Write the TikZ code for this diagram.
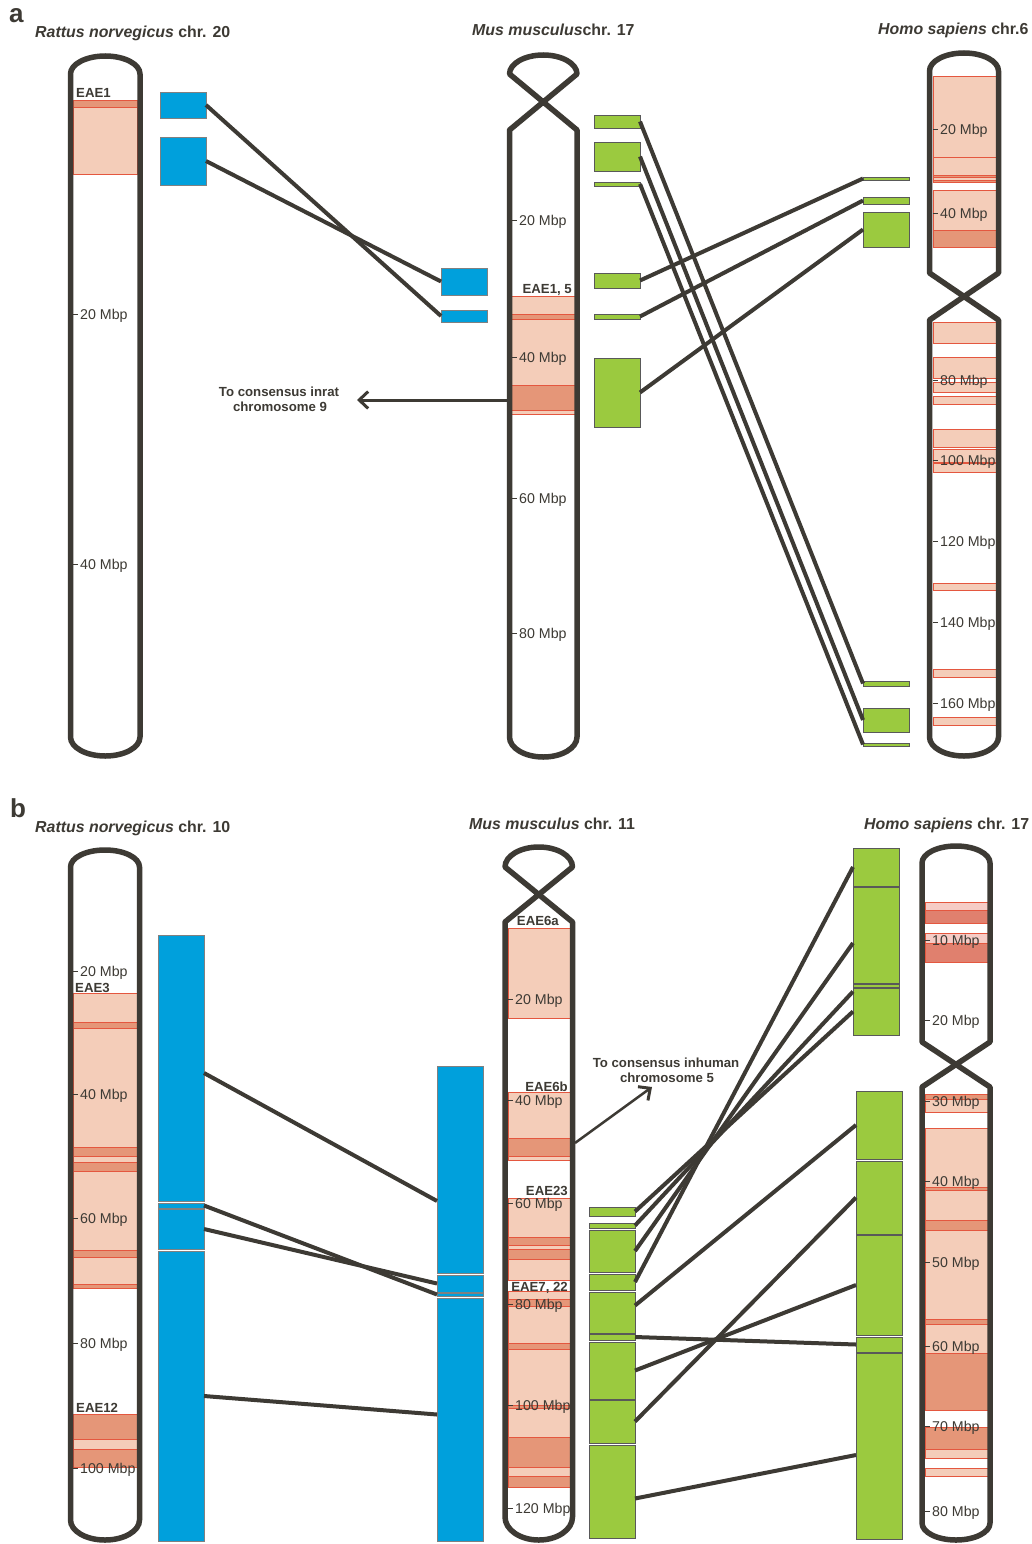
\documentclass[tikz,border=0pt]{standalone}
\usepackage{fontspec}
\setmainfont{Liberation Sans}
\usetikzlibrary{arrows.meta,calc}
\definecolor{chrc}{HTML}{3D3A34}
\definecolor{lsal}{HTML}{F4CDB9}
\definecolor{dsal}{HTML}{E59678}
\definecolor{bandred}{HTML}{E4573F}
\definecolor{bluec}{HTML}{00A0DC}
\definecolor{greenc}{HTML}{9BCA3F}
\definecolor{lpink}{HTML}{F6CCC6}
\definecolor{dred}{HTML}{E0806E}
\newcommand\boxn[6]{\node[#1, anchor=north west, minimum width={(#4)-(#2)}, minimum height={(#5)-(#3)}] (#6) at (#2,#3) {};}
\newcommand\bnd[5]{\draw[#1] (#2,#3) rectangle (#4,#5);}
\newcommand\tk[4]{\draw[tickln] (#1,#2) -- ({#1+5},#2); \node[ticklab, anchor=base west] (#4) at ({#1+7},{#2+5}) {#3 Mbp};}
\tikzset{
 chr/.style={draw=chrc, line width=5.5pt, line join=round},
 lband/.style={fill=lsal, draw=bandred, line width=0.8pt},
 dband/.style={fill=dsal, draw=bandred, line width=0.8pt},
 pband/.style={fill=lpink, draw=bandred, line width=0.8pt},
 rband/.style={fill=dred, draw=bandred, line width=0.8pt},
 bluebox/.style={fill=bluec, draw=gray, line width=0.8pt, inner sep=0pt, outer sep=0pt},
 greenbox/.style={fill=greenc, draw=gray!70!black, line width=0.8pt, inner sep=0pt, outer sep=0pt},
 link/.style={draw=chrc, line width=4pt},
 tickln/.style={draw=chrc, line width=1pt},
 ticklab/.style={font=\fontsize{14.2}{14}\selectfont, text=chrc, inner sep=0pt},
 eae/.style={font=\bfseries\fontsize{13.2}{13}\selectfont, text=chrc, inner sep=0pt},
 ttl/.style={font=\bfseries\fontsize{15.9}{16}\selectfont, text=chrc, inner sep=0pt},
 plet/.style={font=\bfseries\fontsize{26}{26}\selectfont, text=chrc, inner sep=0pt},
 arr/.style={draw=chrc, line width=3pt, -{Straight Barb[length=9pt,width=17pt,line width=3pt]}},
}
\begin{document}
\begin{tikzpicture}[x=1pt,y=-1pt]
\useasboundingbox (0,0) rectangle (1031,1544);
\fill[white] (0,0) rectangle (1031,1544);

% ================= PANEL A =================
\node[plet, anchor=base west] (pa) at (9,23) {a};
\node[ttl, anchor=base west] (ta1) at (35,38) {\textit{Rattus norvegicus} chr. 20};
\node[ttl, anchor=base west] (ta2) at (472,36) {\textit{Mus musculus}chr. 17};
\node[ttl, anchor=base west] (ta3) at (878,35) {\textit{Homo sapiens} chr.6};

% rat chr 20
\bnd{lband}{73.5}{100}{137}{174}
\bnd{dband}{73.5}{100}{137}{107}
\draw[chr] (70.5,737) -- (70.5,74) arc[start angle=180,end angle=360,x radius=34.75,y radius=18] -- (140,737) arc[start angle=0,end angle=180,x radius=34.75,y radius=19] -- cycle;
\tk{73}{314}{20}{ra20}
\tk{73}{564}{40}{ra40}
\node[eae, anchor=base west] (eae1) at (76,98) {EAE1};

% mouse chr 17
\bnd{lband}{511}{296}{575}{414}
\bnd{dband}{511}{314}{575}{319}
\bnd{dband}{511}{385}{575}{410}
\draw[chr] (509.5,737) -- (509.5,130) -- (577,74) arc[start angle=0,end angle=-180,x radius=33.75,y radius=19] -- (577,130) -- (577,737) arc[start angle=0,end angle=180,x radius=33.75,y radius=20] -- cycle;
\tk{512}{220}{20}{ma20}
\tk{512}{357}{40}{ma40}
\tk{512}{498}{60}{ma60}
\tk{512}{633}{80}{ma80}
\node[eae, anchor=base east] (eae15) at (572,293) {EAE1, 5};

% human chr 6
\bnd{lband}{933}{76}{996}{157}
\bnd{lband}{933}{157}{996}{175}
\bnd{dband}{933}{175}{996}{177}
\bnd{lband}{933}{177}{996}{180}
\bnd{dband}{933}{180}{996}{182}
\bnd{lband}{933}{190}{996}{230}
\bnd{dband}{933}{230}{996}{247}
\bnd{lband}{933}{322}{996}{343}
\bnd{lband}{933}{357}{996}{378}
\bnd{lband}{933}{382}{996}{392}
\bnd{lband}{933}{396}{996}{404}
\bnd{lband}{933}{429}{996}{447}
\bnd{lband}{933}{449}{996}{462}
\bnd{lband}{933}{463}{996}{472}
\bnd{lband}{933}{583}{996}{590}
\bnd{lband}{933}{669}{996}{677}
\bnd{lband}{933}{717}{996}{725}
\draw[chr] (929.5,273) -- (929.5,71) arc[start angle=180,end angle=360,x radius=34.5,y radius=18] -- (998.5,273) -- (929.5,320) -- (929.5,737) arc[start angle=180,end angle=0,x radius=34.5,y radius=19] -- (998.5,320) -- cycle;
\tk{933}{130}{20}{ha20}
\tk{933}{213}{40}{ha40}
\tk{933}{380}{80}{ha80}
\tk{933}{460}{100}{ha100}
\tk{933}{541}{120}{ha120}
\tk{933}{622}{140}{ha140}
\tk{933}{703}{160}{ha160}

% boxes panel a
\boxn{bluebox}{160}{92}{206}{118}{ra1}
\boxn{bluebox}{160}{137}{206}{185}{ra2}
\boxn{bluebox}{441}{268}{487}{295}{ma1}
\boxn{bluebox}{441}{310}{487}{322}{ma2}
\boxn{greenbox}{594}{115}{640}{128}{mg1}
\boxn{greenbox}{594}{142}{640}{171}{mg2}
\boxn{greenbox}{594}{182}{640}{186}{mg3}
\boxn{greenbox}{594}{273}{640}{288}{mg4}
\boxn{greenbox}{594}{314}{640}{319}{mg5}
\boxn{greenbox}{594}{358}{640}{427}{mg6}
\boxn{greenbox}{863}{177}{909}{180}{hg1}
\boxn{greenbox}{863}{197}{909}{204}{hg2}
\boxn{greenbox}{863}{212}{909}{247}{hg3}
\boxn{greenbox}{863}{681}{909}{686}{hg4}
\boxn{greenbox}{863}{708}{909}{732}{hg5}
\boxn{greenbox}{863}{743}{909}{746}{hg6}

\draw[link] (ra1.east) -- (ma2.west);
\draw[link] (ra2.east) -- (ma1.west);
\draw[link] (mg1.east) -- (hg4.west);
\draw[link] (mg2.east) -- (hg5.west);
\draw[link] (mg3.east) -- (hg6.west);
\draw[link] (mg4.east) -- (hg1.west);
\draw[link] (mg5.east) -- (hg2.west);
\draw[link] (mg6.east) -- (hg3.west);

\coordinate (m17l) at (507,400);
\coordinate (arrA) at (357,400);
\draw[arr] (m17l) -- (arrA);
\node[eae, anchor=base] (ca1) at (279,396) {To consensus inrat};
\node[eae, anchor=base] (ca2) at (280,411) {chromosome 9};

% ================= PANEL B =================
\node[plet, anchor=base west] (pb) at (10,817) {b};
\node[ttl, anchor=base west] (tb1) at (35,832) {\textit{Rattus norvegicus} chr. 10};
\node[ttl, anchor=base west] (tb2) at (469,829) {\textit{Mus musculus} chr. 11};
\node[ttl, anchor=base west] (tb3) at (864,829) {\textit{Homo sapiens} chr. 17};

% rat chr 10
\bnd{lband}{73.5}{993}{137}{1288}
\bnd{dband}{73.5}{1022}{137}{1028}
\bnd{dband}{73.5}{1147}{137}{1156}
\bnd{dband}{73.5}{1162}{137}{1171}
\bnd{dband}{73.5}{1250}{137}{1257}
\bnd{dband}{73.5}{1284}{137}{1288}
\bnd{dband}{73.5}{1414}{137}{1467}
\bnd{lband}{73.5}{1439}{137}{1449}
\draw[chr] (70.5,1520) -- (70.5,867) arc[start angle=180,end angle=360,x radius=34.5,y radius=17] -- (139.5,1520) arc[start angle=0,end angle=180,x radius=34.5,y radius=20] -- cycle;
\tk{73}{971}{20}{rb20}
\tk{73}{1094}{40}{rb40}
\tk{73}{1218}{60}{rb60}
\tk{73}{1343}{80}{rb80}
\tk{73}{1468}{100}{rb100}
\node[eae, anchor=base west] (eae3) at (75,992) {EAE3};
\node[eae, anchor=base west] (eae12) at (76,1412) {EAE12};

% mouse chr 11
\bnd{lband}{508}{928}{570}{1018}
\bnd{lband}{508}{1092}{570}{1160}
\bnd{dband}{508}{1138}{570}{1156}
\bnd{lband}{508}{1198}{570}{1280}
\bnd{dband}{508}{1237}{570}{1245}
\bnd{dband}{508}{1249}{570}{1259}
\bnd{lband}{508}{1291}{570}{1487}
\bnd{dband}{508}{1299}{570}{1306}
\bnd{dband}{508}{1343}{570}{1349}
\bnd{dband}{508}{1405}{570}{1408}
\bnd{dband}{508}{1437}{570}{1467}
\bnd{dband}{508}{1476}{570}{1487}
\draw[chr] (505,1517) -- (505,922) -- (572.5,867) arc[start angle=0,end angle=-180,x radius=33.75,y radius=20] -- (572.5,922) -- (572.5,1517) arc[start angle=0,end angle=180,x radius=33.75,y radius=23] -- cycle;
\tk{508}{999}{20}{mb20}
\tk{508}{1100}{40}{mb40}
\tk{508}{1203}{60}{mb60}
\tk{508}{1304}{80}{mb80}
\tk{508}{1405}{100}{mb100}
\tk{508}{1508}{120}{mb120}
\node[eae, anchor=base east] (eae6a) at (559,925) {EAE6a};
\node[eae, anchor=base east] (eae6b) at (568,1091) {EAE6b};
\node[eae, anchor=base east] (eae23) at (568,1195) {EAE23};
\node[eae, anchor=base east] (eae722) at (568,1291) {EAE7, 22};

% human chr 17
\bnd{pband}{925}{902}{988}{910}
\bnd{rband}{925}{910}{988}{923}
\bnd{pband}{925}{933}{988}{943}
\bnd{rband}{925}{943}{988}{962}
\bnd{lband}{925}{1094}{988}{1112}
\bnd{dband}{925}{1094}{988}{1099}
\bnd{lband}{925}{1128}{988}{1187}
\bnd{dband}{925}{1187}{988}{1190}
\bnd{lband}{925}{1190}{988}{1220}
\bnd{dband}{925}{1220}{988}{1230}
\bnd{lband}{925}{1230}{988}{1319}
\bnd{dband}{925}{1319}{988}{1324}
\bnd{lband}{925}{1324}{988}{1353}
\bnd{dband}{925}{1353}{988}{1410}
\bnd{dband}{925}{1427}{988}{1449}
\bnd{lband}{925}{1449}{988}{1458}
\bnd{lband}{925}{1468}{988}{1476}
\draw[chr] (922,1042) -- (922,863) arc[start angle=180,end angle=360,x radius=34,y radius=17] -- (990,1042) -- (922,1087) -- (922,1523) arc[start angle=180,end angle=0,x radius=34,y radius=17] -- (990,1087) -- cycle;
\tk{925}{940}{10}{hb10}
\tk{925}{1020}{20}{hb20}
\tk{925}{1101}{30}{hb30}
\tk{925}{1181}{40}{hb40}
\tk{925}{1262}{50}{hb50}
\tk{925}{1346}{60}{hb60}
\tk{925}{1426}{70}{hb70}
\tk{925}{1511}{80}{hb80}

% blue bars panel b
\boxn{bluebox}{158}{935}{204}{1201}{rb1}
\boxn{bluebox}{158}{1203}{204}{1208}{rb2}
\boxn{bluebox}{158}{1209}{204}{1249}{rb3}
\boxn{bluebox}{158}{1251}{204}{1541}{rb4}
\boxn{bluebox}{437}{1066}{483}{1273}{mb1}
\boxn{bluebox}{437}{1275}{483}{1292}{mb2}
\boxn{bluebox}{437}{1293}{483}{1296}{mb3}
\boxn{bluebox}{437}{1298}{483}{1541}{mb4}
% green bars panel b
\boxn{greenbox}{589}{1207}{635}{1216}{ms1}
\boxn{greenbox}{589}{1223}{635}{1228}{ms2}
\boxn{greenbox}{589}{1230}{635}{1272}{ms3}
\boxn{greenbox}{589}{1274}{635}{1290}{ms4}
\boxn{greenbox}{589}{1292}{635}{1333}{ms5}
\boxn{greenbox}{589}{1334}{635}{1340}{ms6}
\boxn{greenbox}{589}{1342}{635}{1399}{ms7}
\boxn{greenbox}{589}{1400}{635}{1443}{ms8}
\boxn{greenbox}{589}{1445}{635}{1538}{ms9}
\boxn{greenbox}{853}{848}{899}{886}{hs1}
\boxn{greenbox}{853}{887}{899}{983}{hs2}
\boxn{greenbox}{853}{984}{899}{987}{hs3}
\boxn{greenbox}{853}{988}{899}{1035}{hs4}
\boxn{greenbox}{856}{1091}{902}{1159}{hs5}
\boxn{greenbox}{856}{1161}{902}{1234}{hs6}
\boxn{greenbox}{856}{1235}{902}{1335}{hs7}
\boxn{greenbox}{856}{1337}{902}{1352}{hs8}
\boxn{greenbox}{856}{1353}{902}{1539}{hs9}

\draw[link] ([yshift=-5pt]rb1.east) -- ([yshift=-31.5pt]mb1.west);
\draw[link] (rb2.east) -- (mb3.west);
\draw[link] (rb3.east) -- (mb2.west);
\draw[link] (rb4.east) -- ([yshift=5pt]mb4.west);

\draw[link] (ms1.east) -- (hs4.west);
\draw[link] (ms2.east) -- ([yshift=-6pt]hs3.west);
\draw[link] (ms3.east) -- ([yshift=-8pt]hs2.west);
\draw[link] (ms4.east) -- (hs1.west);
\draw[link] ([yshift=7pt]ms5.east) -- (hs5.west);
\draw[link] (ms6.east) -- (hs8.west);
\draw[link] (ms7.east) -- (hs7.west);
\draw[link] (ms8.east) -- (hs6.west);
\draw[link] ([yshift=-7pt]ms9.east) -- ([yshift=-9pt]hs9.west);

\coordinate (m11r) at (575,1143);
\coordinate (arrB) at (652,1087);
\draw[arr, line width=2.5pt] (m11r) -- (arrB);
\node[eae, anchor=base] (cb1) at (666,1067) {To consensus inhuman};
\node[eae, anchor=base] (cb2) at (667,1082) {chromosome 5};
\end{tikzpicture}
\end{document}
